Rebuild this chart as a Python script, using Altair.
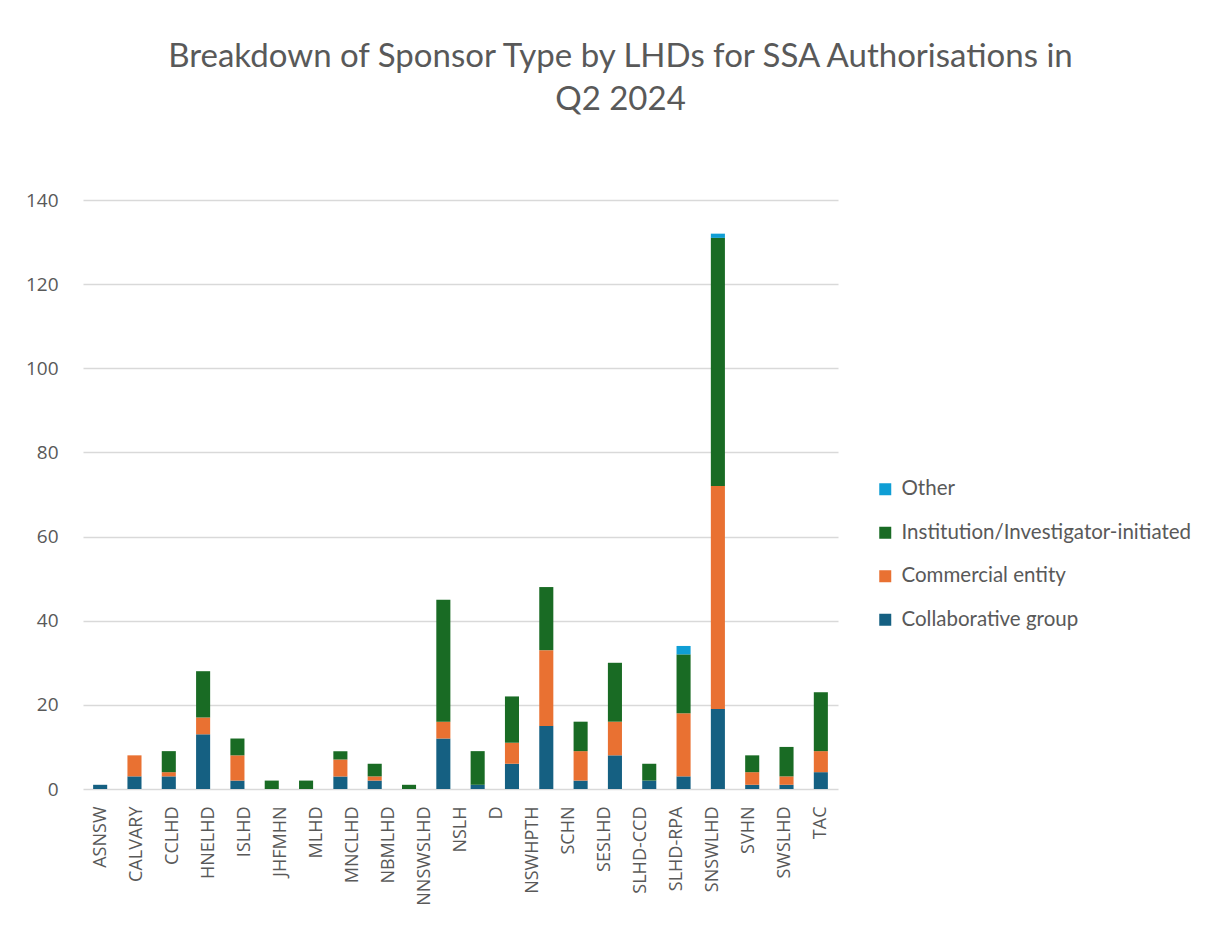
import altair as alt
import pandas as pd

# ---- data ----
bar_order = list(range(1, 23))  # 22 stacked bars, left to right
axis_labels = ["ASNSW", "CALVARY", "CCLHD", "HNELHD", "ISLHD", "JHFMHN", "MLHD",
               "MNCLHD", "NBMLHD", "NNSWSLHD", "NSLH", "D", "NSWHPTH", "SCHN",
               "SESLHD", "SLHD-CCD", "SLHD-RPA", "SNSWLHD", "SVHN", "SWSLHD", "TAC"]

series_names = ["Collaborative group", "Commercial entity",
                "Institution/Investigator-initiated", "Other"]
collaborative = [1, 3, 3, 13, 2, 0, 0, 3, 2, 0, 12, 1, 6, 15, 2, 8, 2, 3, 19, 1, 1, 4]
commercial    = [0, 5, 1, 4, 6, 0, 0, 4, 1, 0, 4, 0, 5, 18, 7, 8, 0, 15, 53, 3, 2, 5]
institution   = [0, 0, 5, 11, 4, 2, 2, 2, 3, 1, 29, 8, 11, 15, 7, 14, 4, 14, 59, 4, 7, 14]
other         = [0, 0, 0, 0, 0, 0, 0, 0, 0, 0, 0, 0, 0, 0, 0, 0, 0, 2, 1, 0, 0, 0]

legend_order = ["Other", "Institution/Investigator-initiated",
                "Commercial entity", "Collaborative group"]
legend_colors = ["#0F9ED5", "#196B24", "#E97132", "#156082"]

title_lines = ["Breakdown of Sponsor Type by LHDs for SSA Authorisations in", "Q2 2024"]
y_ticks = [0, 20, 40, 60, 80, 100, 120, 140]

# ---- tables ----
rows = []
for s_idx, (name, vals) in enumerate(zip(series_names,
                                         [collaborative, commercial, institution, other])):
    for b, v in zip(bar_order, vals):
        rows.append({"bar": b, "series": name, "value": v, "stack": s_idx})
df = pd.DataFrame(rows)
lab_df = pd.DataFrame({"label": axis_labels})

TXT = "#595959"

bars = alt.Chart(df).mark_bar().encode(
    x=alt.X("bar:O", axis=None,
            scale=alt.Scale(paddingInner=0.59, paddingOuter=0.295)),
    y=alt.Y("value:Q", stack="zero",
            scale=alt.Scale(domain=[0, 140], nice=False),
            axis=alt.Axis(values=y_ticks, title=None, grid=True, domain=False,
                          ticks=False, labelFontSize=19, labelColor=TXT,
                          labelFont="Open Sans", labelPadding=25,
                          gridColor="#D9D9D9", gridWidth=1.5)),
    color=alt.Color("series:N",
                    scale=alt.Scale(domain=legend_order, range=legend_colors),
                    legend=alt.Legend(orient="none", legendX=792, legendY=279,
                                      title=None, symbolType="square",
                                      symbolSize=144, symbolStrokeWidth=0,
                                      labelFontSize=20.5, labelFont="Lato",
                                      labelColor=TXT, rowPadding=22.5,
                                      labelOffset=6, labelLimit=500)),
    order=alt.Order("stack:Q", sort="ascending"),
)

labels = alt.Chart(lab_df).mark_point(opacity=0).encode(
    x=alt.X("label:N", sort=axis_labels,
            scale=alt.Scale(type="point", padding=0.5),
            axis=alt.Axis(orient="bottom", title=None, labelAngle=-90,
                          ticks=False, domain=False, labelFontSize=18,
                          labelFont="Open Sans", labelColor=TXT,
                          labelPadding=17)),
)

chart = alt.layer(bars, labels).resolve_scale(x="independent").properties(
    width=755, height=589,
    autosize=alt.AutoSizeParams(type="none"),
    padding={"left": 75, "top": 192, "right": 370, "bottom": 130},
    title=alt.TitleParams(text=title_lines, fontSize=33, font="Lato",
                          fontWeight="normal", color=TXT, anchor="middle",
                          dx=160, offset=74, lineHeight=43),
).configure_view(strokeWidth=0)

chart.save("out.html", embed_options={"renderer": "svg", "actions": False})
